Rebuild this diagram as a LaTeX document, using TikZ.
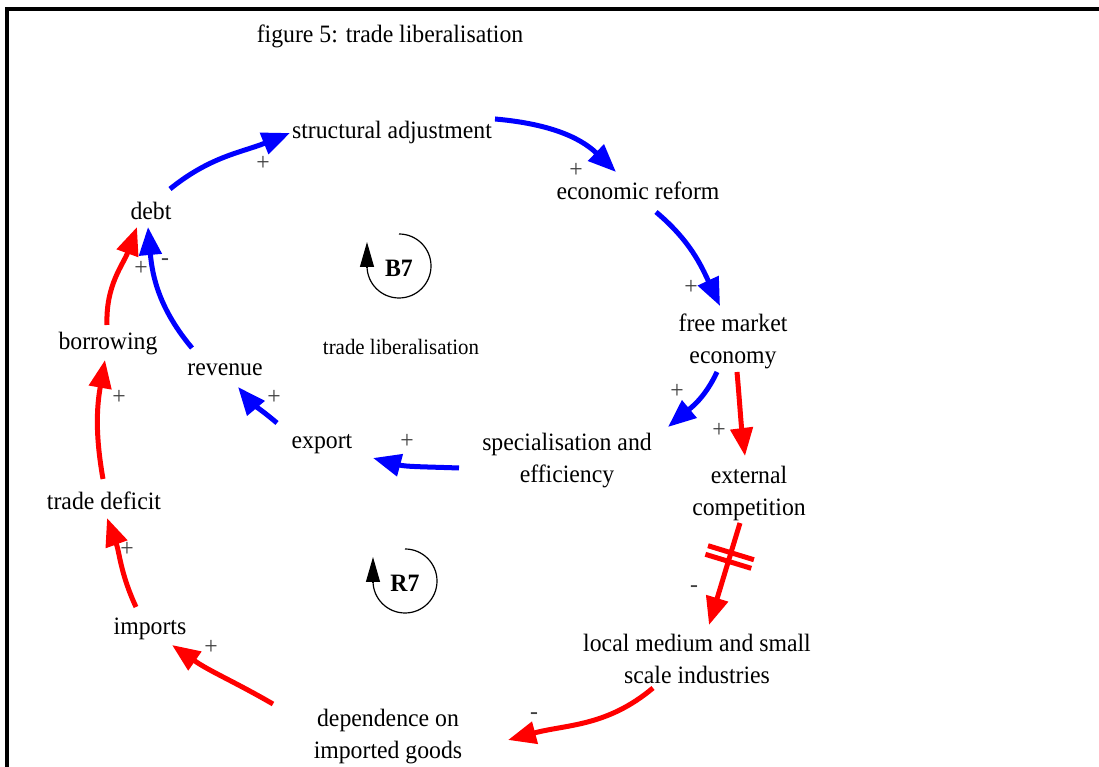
\documentclass[tikz,border=0pt]{standalone}
\usepackage{fontspec}
\setmainfont{Liberation Serif}[FakeStretch=0.95]
\usetikzlibrary{arrows.meta}
\begin{document}
\begin{tikzpicture}[x=1pt,y=1pt,
  var/.style={font=\fontsize{25}{32}\selectfont, align=center, inner sep=0pt},
  note/.style={font=\fontsize{22}{26}\selectfont, inner sep=0pt},
  pol/.style={font=\fontsize{25}{28}\selectfont, text=black!75, inner sep=0pt},
  loopname/.style={font=\fontsize{25}{30}\selectfont\bfseries, inner sep=0pt},
  link/.style={line width=5pt, -{Triangle[length=28pt,width=22pt]}},
  bluelink/.style={link, blue},
  redlink/.style={link, red},
  loopline/.style={line width=1.2pt},
  looptip/.style={line width=1.2pt, -{Triangle[length=25pt,width=14pt]}},
]
\useasboundingbox (0,0) rectangle (1099,767);
% frame
\draw[line width=4pt] (7,0) -- (7,758) -- (1099,758);

% title
\node[var] (title) at (390,731) {figure 5: trade liberalisation};

% variables
\node[var] (sa) at (392,634) {structural adjustment};
\node[var] (er) at (638,576) {economic reform};
\node[var] (fme) at (733,426) {free market\\economy};
\node[var] (spe) at (567,306) {specialisation and\\efficiency};
\node[var] (ext) at (749,274) {external\\competition};
\node[var] (local) at (697,108) {local medium and small\\scale industries};
\node[var] (dep) at (388,30) {dependence on\\imported goods};
\node[var] (imports) at (150,138) {imports};
\node[var] (tdef) at (104,266) {trade deficit};
\node[var] (borrow) at (108,423) {borrowing};
\node[var] (revenue) at (225,397) {revenue};
\node[var] (debt) at (151,556) {debt};
\node[var] (export) at (322,323) {export};
\node[note] (tl) at (401,420) {trade liberalisation};

% loop markers
\node[loopname] (b7) at (399,499) {B7};
\draw[loopline] (b7.center) ++(0,34) arc[start angle=90, end angle=-180, radius=32];
\draw[looptip] ([shift={(-32,0)}]b7.center) -- ([shift={(-32,26)}]b7.center);
\node[loopname] (r7) at (405,184) {R7};
\draw[loopline] (r7.center) ++(0,34) arc[start angle=90, end angle=-180, radius=32];
\draw[looptip] ([shift={(-32,0)}]r7.center) -- ([shift={(-32,26)}]r7.center);

% balancing loop (blue links)
\draw[bluelink] ([shift={(19,22)}]debt.center) to[out=39,in=202] ([shift={(-102,0)}]sa.center);
\draw[bluelink] ([shift={(103,14)}]sa.center) to[out=-5,in=136] ([shift={(-22,19)}]er.center);
\draw[bluelink] ([shift={(18,-21)}]er.center) to[out=-40,in=115] ([shift={(-13,35)}]fme.center);
\draw[bluelink] ([shift={(-16,-31)}]fme.center) to[out=-115,in=40] ([shift={(101,34)}]spe.center);
\draw[bluelink] ([shift={(-108,-7)}]spe.center) to[out=178,in=-15] ([shift={(51,-14)}]export.center);
\draw[bluelink] ([shift={(-45,21)}]export.center) to[out=140,in=-50] ([shift={(13,-17)}]revenue.center);
\draw[bluelink] ([shift={(-33,22)}]revenue.center) to[out=130,in=-85] ([shift={(-3,-16)}]debt.center);

% reinforcing loop (red links)
\draw[redlink] ([shift={(4,-31)}]fme.center) to[out=-85,in=97] ([shift={(-4,37)}]ext.center);
\draw[redlink] ([shift={(-9,-30)}]ext.center) to[out=-107,in=73]
  coordinate[pos=0.32] (dly) ([shift={(12,34)}]local.center);
\begin{scope}[shift={(dly)}, rotate=-17]
  \draw[red, line width=5pt] (-24,4.5) -- (24,4.5) (-24,-4.5) -- (24,-4.5);
\end{scope}
\draw[redlink] ([shift={(-44,-29)}]local.center) to[out=-140,in=15] ([shift={(120,-3)}]dep.center);
\draw[redlink] ([shift={(-115,33)}]dep.center) to[out=150,in=-35] ([shift={(22,-16)}]imports.center);
\draw[redlink] ([shift={(-14,22)}]imports.center) to[out=115,in=-70] ([shift={(3,-17)}]tdef.center);
\draw[redlink] ([shift={(-1,22)}]tdef.center) to[out=100,in=-100] ([shift={(-3,-16)}]borrow.center);
\draw[redlink] ([shift={(-1,19)}]borrow.center) to[out=92,in=-110] ([shift={(-14,-16)}]debt.center);

% polarities
\node[pol] (p1) at (263,604) {+};
\node[pol] (p2) at (576,597) {+};
\node[pol] (p3) at (691,480) {+};
\node[pol] (p4) at (677,376) {+};
\node[pol] (p5) at (719,337) {+};
\node[pol] (p6) at (407,326) {+};
\node[pol] (p7) at (274,370) {+};
\node[pol] (p8) at (165,505) {-};
\node[pol] (p9) at (141,499) {+};
\node[pol] (p10) at (119,370) {+};
\node[pol] (p11) at (127,218) {+};
\node[pol] (p12) at (211,120) {+};
\node[pol] (p13) at (534,51) {-};
\node[pol] (p14) at (694,178) {-};
\end{tikzpicture}
\end{document}
